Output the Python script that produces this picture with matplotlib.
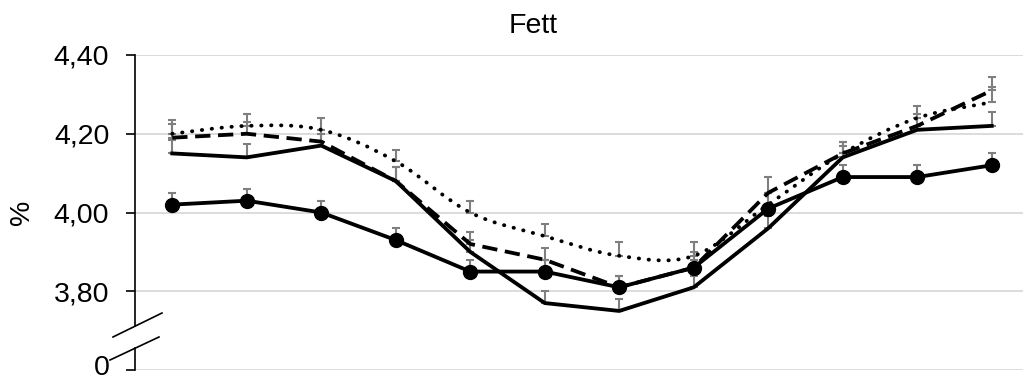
import numpy as np
import matplotlib
matplotlib.use('Agg')
import matplotlib.pyplot as plt
from matplotlib.lines import Line2D
from matplotlib.path import Path
from matplotlib.patches import PathPatch
from matplotlib.transforms import blended_transform_factory, offset_copy

plt.rcParams['font.family'] = ['Liberation Sans', 'DejaVu Sans']

# data (12 samples, no x labels)
positions = np.arange(12)
serie_a = [4.02, 4.03, 4.00, 3.93, 3.85, 3.85, 3.81, 3.86, 4.01, 4.09, 4.09, 4.12]
err_a   = [0.03, 0.03, 0.03, 0.03, 0.03, 0.03, 0.03, 0.02, 0.04, 0.03, 0.03, 0.03]
serie_b = [4.15, 4.14, 4.17, 4.08, 3.90, 3.77, 3.75, 3.81, 3.96, 4.14, 4.21, 4.22]
err_b   = [0.035, 0.035, 0.03, 0.035, 0.03, 0.03, 0.03, 0.03, 0.03, 0.03, 0.03, 0.035]
serie_c = [4.19, 4.20, 4.18, 4.08, 3.92, 3.88, 3.81, 3.86, 4.05, 4.15, 4.22, 4.31]
err_c   = [0.035, 0.03, 0.03, 0.035, 0.03, 0.03, 0.03, 0.04, 0.04, 0.03, 0.03, 0.035]
serie_d = [4.20, 4.22, 4.21, 4.13, 4.00, 3.94, 3.89, 3.89, 4.02, 4.15, 4.24, 4.28]
err_d   = [0.035, 0.03, 0.03, 0.03, 0.03, 0.03, 0.035, 0.035, 0.03, 0.03, 0.03, 0.04]

tick_values = [3.6, 3.8, 4.0, 4.2, 4.4]
tick_labels = ['0', '3,80', '4,00', '4,20', '4,40']


def smooth_path(x, y):
    # Excel-like smoothed line: cubic bezier segments through the points
    pts = np.column_stack([x, y]).astype(float)
    verts = [pts[0]]
    codes = [Path.MOVETO]
    n = len(pts)
    for i in range(n - 1):
        p0 = pts[max(i - 1, 0)]
        p1 = pts[i]
        p2 = pts[i + 1]
        p3 = pts[min(i + 2, n - 1)]
        verts += [p1 + (p2 - p0) / 6, p2 - (p3 - p1) / 6, p2]
        codes += [Path.CURVE4] * 3
    return Path(verts, codes)


W, H = 1023, 383
fig = plt.figure(figsize=(W/100, H/100), dpi=100)
ax = fig.add_axes([135/W, 1 - 370/H, 894/W, 315/H])

grey = '#7f7f7f'
for y, e in [(serie_a, err_a), (serie_b, err_b), (serie_c, err_c), (serie_d, err_d)]:
    ax.errorbar(positions, y, yerr=[np.zeros(len(e)), e], fmt='none',
                ecolor=grey, elinewidth=1.5, capsize=3.2, capthick=1.5, zorder=2)

lw = 2.75
ax.plot(positions, serie_b, color='black', lw=lw, zorder=3)
ax.plot(positions, serie_c, color='black', lw=lw, ls=(0, (4, 2)), zorder=3)
ax.add_patch(PathPatch(smooth_path(positions, serie_d), fill=False,
                       edgecolor='black', lw=lw, ls=(0, (0.1, 2.5)),
                       capstyle='round', zorder=3))
ax.plot(positions, serie_a, color='black', lw=lw, marker='o', markersize=10, zorder=4)

ax.set_xlim(-0.5, 11.5)
ax.set_ylim(3.6, 4.4)
ax.set_xticks([])
ax.set_yticks(tick_values)
ax.set_yticklabels(tick_labels, fontsize=20.5)
ax.tick_params(axis='y', length=6.5, width=1.2, pad=12, color='black')
ax.grid(axis='y', color='#d9d9d9', lw=1.3, zorder=0)
ax.set_axisbelow(True)
for s in ax.spines.values():
    s.set_visible(False)

# lift the bottom "0" label a little so it stays inside the figure
zero_lab = ax.yaxis.get_major_ticks()[0].label1
zero_lab.set_transform(offset_copy(zero_lab.get_transform(), fig=fig, y=5, units='dots'))

# broken left axis
tr = blended_transform_factory(ax.transAxes, ax.transData)
ax.plot([0, 0], [3.712, 4.4], color='black', lw=1.2, transform=tr, clip_on=False)
ax.plot([0, 0], [3.6, 3.656], color='black', lw=1.2, transform=tr, clip_on=False)
for (x0, y0), (x1, y1) in [((113, 337), (162, 313)), ((110, 360), (159, 337))]:
    fig.add_artist(Line2D([x0/W, x1/W], [1 - y0/H, 1 - y1/H], color='black', lw=1.2))

ax.set_ylabel('%', fontsize=20.5)
ax.yaxis.set_label_coords(-100/894, 0.5)
fig.text(533/W, 1 - 26/H, 'Fett', ha='center', va='center', fontsize=20.5)

fig.savefig('out.png', dpi=100)
